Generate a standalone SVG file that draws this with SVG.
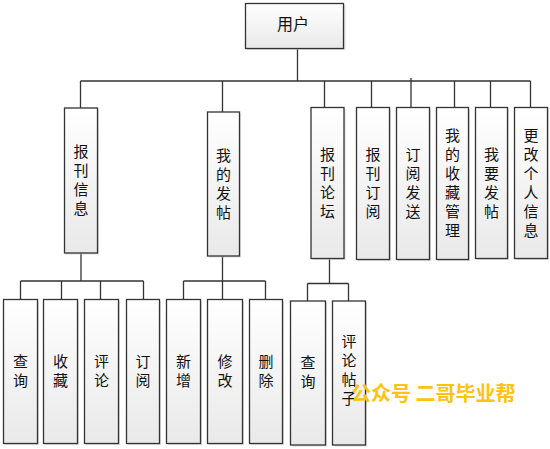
<svg xmlns="http://www.w3.org/2000/svg" width="550" height="449" viewBox="0 0 550 449">
<defs>
<linearGradient id="g" x1="0" y1="0" x2="0" y2="1">
<stop offset="0" stop-color="#ffffff"/>
<stop offset="1" stop-color="#e9e9e9"/>
</linearGradient>
<style>
.box{fill:url(#g);stroke:#333;stroke-width:1.3}
.sh{fill:#c8c8c8;opacity:0.6}
.t{font-family:"Noto Sans CJK SC","Noto Sans",sans-serif;font-size:15px;fill:#111;text-anchor:middle;dominant-baseline:central}
.ln{fill:none;stroke:#333;stroke-width:1.3}
.wm{font-family:"Noto Sans CJK SC","Noto Sans",sans-serif;font-size:20px;font-weight:bold;fill:#FFC20E;dominant-baseline:central}
</style>
</defs>
<rect width="550" height="449" fill="#fff"/>
<g id="connectors" class="ln">
<path d="M297.5 48.5V81M80.5 81H530.5M80.5 81V108M222.5 81V112M324.5 81V107.5M371.5 81V107.5M411 78V107.5M454.5 81V107.5M490.5 81V107.5M530.5 81V107.5"/>
<path d="M81 253V281M20.5 281H143.5M20.5 281V299.5M61.5 281V299.5M100.5 281V299.5M143.5 281V299.5"/>
<path d="M222.5 256V299.5M183.5 281H265.5M183.5 281V299.5M265.5 281V299.5"/>
<path d="M329.5 258.5V283.5M307.5 283.5H348.5M307.5 283.5V301M348.5 283.5V301"/>
</g>
<g id="root">
<rect class="sh" x="247" y="5" width="98.5" height="45"/>
<rect class="box" x="245.5" y="3.5" width="98" height="45"/>
<text class="t" x="293" y="23" style="font-size:16px">用户</text>
</g>
<g id="n1">
<rect class="sh" x="66" y="109.5" width="33" height="145"/>
<rect class="box" x="64.5" y="108" width="33" height="145"/>
<text class="t"><tspan x="81" y="150">报</tspan><tspan x="81" y="169">刊</tspan><tspan x="81" y="188">信</tspan><tspan x="81" y="207">息</tspan></text>
</g>
<g id="n2">
<rect class="sh" x="209" y="113.5" width="32" height="144"/>
<rect class="box" x="207.5" y="112" width="32" height="144"/>
<text class="t"><tspan x="223.5" y="153.5">我</tspan><tspan x="223.5" y="172.5">的</tspan><tspan x="223.5" y="191.5">发</tspan><tspan x="223.5" y="210.5">帖</tspan></text>
</g>
<g id="n3">
<rect class="sh" x="312.5" y="109" width="33" height="151"/>
<rect class="box" x="311" y="107.5" width="33" height="151"/>
<text class="t"><tspan x="327.5" y="152.5">报</tspan><tspan x="327.5" y="171.5">刊</tspan><tspan x="327.5" y="190.5">论</tspan><tspan x="327.5" y="209.5">坛</tspan></text>
</g>
<g id="n4">
<rect class="sh" x="358" y="109" width="33" height="152"/>
<rect class="box" x="356.5" y="107.5" width="33" height="152"/>
<text class="t"><tspan x="373" y="153">报</tspan><tspan x="373" y="172">刊</tspan><tspan x="373" y="191">订</tspan><tspan x="373" y="210">阅</tspan></text>
</g>
<g id="n5">
<rect class="sh" x="398" y="109" width="33" height="152"/>
<rect class="box" x="396.5" y="107.5" width="33" height="152"/>
<text class="t"><tspan x="413" y="153">订</tspan><tspan x="413" y="172">阅</tspan><tspan x="413" y="191">发</tspan><tspan x="413" y="210">送</tspan></text>
</g>
<g id="n6">
<rect class="sh" x="438" y="109" width="32" height="152"/>
<rect class="box" x="436.5" y="107.5" width="32" height="152"/>
<text class="t"><tspan x="452.5" y="134">我</tspan><tspan x="452.5" y="153">的</tspan><tspan x="452.5" y="172">收</tspan><tspan x="452.5" y="191">藏</tspan><tspan x="452.5" y="210">管</tspan><tspan x="452.5" y="229">理</tspan></text>
</g>
<g id="n7">
<rect class="sh" x="477" y="109" width="32" height="151"/>
<rect class="box" x="475.5" y="107.5" width="32" height="151"/>
<text class="t"><tspan x="491.5" y="152.5">我</tspan><tspan x="491.5" y="171.5">要</tspan><tspan x="491.5" y="190.5">发</tspan><tspan x="491.5" y="209.5">帖</tspan></text>
</g>
<g id="n8">
<rect class="sh" x="516" y="109" width="33" height="151"/>
<rect class="box" x="514.5" y="107.5" width="33" height="151"/>
<text class="t"><tspan x="531" y="133.5">更</tspan><tspan x="531" y="152.5">改</tspan><tspan x="531" y="171.5">个</tspan><tspan x="531" y="190.5">人</tspan><tspan x="531" y="209.5">信</tspan><tspan x="531" y="228.5">息</tspan></text>
</g>
<g id="c1">
<rect class="sh" x="5" y="301" width="34" height="144"/>
<rect class="box" x="3.5" y="299.5" width="34" height="144"/>
<text class="t"><tspan x="20.5" y="360">查</tspan><tspan x="20.5" y="379">询</tspan></text>
</g>
<g id="c2">
<rect class="sh" x="45" y="301" width="34" height="144"/>
<rect class="box" x="43.5" y="299.5" width="34" height="144"/>
<text class="t"><tspan x="60.5" y="360">收</tspan><tspan x="60.5" y="379">藏</tspan></text>
</g>
<g id="c3">
<rect class="sh" x="86" y="301" width="34" height="144"/>
<rect class="box" x="84.5" y="299.5" width="34" height="144"/>
<text class="t"><tspan x="101.5" y="360">评</tspan><tspan x="101.5" y="379">论</tspan></text>
</g>
<g id="c4">
<rect class="sh" x="128" y="301" width="33" height="144"/>
<rect class="box" x="126.5" y="299.5" width="33" height="144"/>
<text class="t"><tspan x="143" y="360">订</tspan><tspan x="143" y="379">阅</tspan></text>
</g>
<g id="c5">
<rect class="sh" x="168" y="301" width="34" height="144"/>
<rect class="box" x="166.5" y="299.5" width="34" height="144"/>
<text class="t"><tspan x="183.5" y="360">新</tspan><tspan x="183.5" y="379">增</tspan></text>
</g>
<g id="c6">
<rect class="sh" x="209" y="301" width="35" height="144"/>
<rect class="box" x="207.5" y="299.5" width="35" height="144"/>
<text class="t"><tspan x="225" y="360">修</tspan><tspan x="225" y="379">改</tspan></text>
</g>
<g id="c7">
<rect class="sh" x="251" y="301" width="33" height="144"/>
<rect class="box" x="249.5" y="299.5" width="33" height="144"/>
<text class="t"><tspan x="266" y="360">删</tspan><tspan x="266" y="379">除</tspan></text>
</g>
<g id="c8">
<rect class="sh" x="292" y="302.5" width="35" height="144"/>
<rect class="box" x="290.5" y="301" width="35" height="144"/>
<text class="t"><tspan x="308" y="361">查</tspan><tspan x="308" y="380">询</tspan></text>
</g>
<g id="c9">
<rect class="sh" x="334" y="302.5" width="33" height="144"/>
<rect class="box" x="332.5" y="301" width="33" height="144"/>
<text class="t"><tspan x="349" y="340">评</tspan><tspan x="349" y="359">论</tspan><tspan x="349" y="378">帖</tspan><tspan x="349" y="397">子</tspan></text>
</g>
<text class="wm" x="351" y="392.5">公众号 二哥毕业帮</text>
</svg>
